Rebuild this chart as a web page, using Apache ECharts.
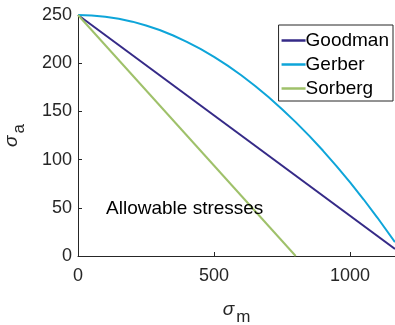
<!DOCTYPE html>
<html>
<head>
<meta charset="utf-8">
<script src="https://cdn.jsdelivr.net/npm/echarts@6/dist/echarts.min.js"></script>
<style>
  html, body { margin: 0; padding: 0; background: #fff; }
  #chart { width: 395px; height: 325px; }
</style>
</head>
<body>
<div id="chart"></div>
<script>
// Fatigue criteria: alternating stress vs. mean stress
const seriesNames = ['Goodman', 'Gerber', 'Sorberg'];
const colors = ['#352a87', '#0ea5d9', '#9fc16a'];

const goodmanMean = [0, 1165];
const goodmanAmp = [250, 7.3];

const gerberMean = [0, 50, 100, 150, 200, 250, 300, 350, 400, 450, 500, 550, 600, 650, 700,
  750, 800, 850, 900, 950, 1000, 1050, 1100, 1165];
const gerberAmp = [250, 249.6, 248.3, 246.1, 243.1, 239.1, 234.4, 228.7, 222.2, 214.8, 206.6,
  197.5, 187.5, 176.6, 164.9, 152.3, 138.9, 124.6, 109.4, 93.3, 76.4, 58.6, 39.9, 14.4];

const sorbergMean = [0, 800];
const sorbergAmp = [250, 0];

const xTicks = [0, 500, 1000];
const yTicks = [0, 50, 100, 150, 200, 250];
const annotation = 'Allowable stresses';

const zip = (xs, ys) => xs.map((x, i) => [x, ys[i]]);
const FONT = '"Liberation Sans", Arial, sans-serif';
const AXIS_COLOR = '#262626';

const chart = echarts.init(document.getElementById('chart'));

const lineSeries = (name, data, color) => ({
  name, type: 'line', data, symbol: 'none', smooth: false,
  lineStyle: { color, width: 2 }, itemStyle: { color },
  animation: false
});

const nameRich = {
  s: { fontFamily: FONT, fontSize: 19, fontStyle: 'italic', color: AXIS_COLOR },
  sub: { fontFamily: FONT, fontSize: 17, color: AXIS_COLOR, padding: [16, 0, 0, 2] }
};

chart.setOption({
  animation: false,
  backgroundColor: '#fff',
  grid: { left: 78, top: 15, right: 0, bottom: 69, containLabel: false, outerBoundsMode: 'none' },
  xAxis: {
    type: 'value', min: 0, max: 1165, interval: 500,
    name: '{s|σ}{sub|m}', nameLocation: 'middle', nameGap: 37,
    nameTextStyle: { rich: nameRich },
    axisLine: { show: true, lineStyle: { color: AXIS_COLOR, width: 1 } },
    axisTick: { show: true, inside: true, length: 4, lineStyle: { color: AXIS_COLOR } },
    axisLabel: { fontFamily: FONT, fontSize: 18, color: AXIS_COLOR, margin: 11, showMaxLabel: false,
      formatter: v => xTicks.includes(v) ? String(v) : '' },
    splitLine: { show: false }
  },
  yAxis: {
    type: 'value', min: 0, max: 250, interval: 50,
    name: '{s|σ}{sub|a}', nameLocation: 'middle', nameGap: 50, nameRotate: 90,
    nameTextStyle: { rich: nameRich },
    axisLine: { show: true, lineStyle: { color: AXIS_COLOR, width: 1 } },
    axisTick: { show: true, inside: true, length: 4, lineStyle: { color: AXIS_COLOR } },
    axisLabel: { fontFamily: FONT, fontSize: 18, color: AXIS_COLOR, margin: 6,
      formatter: v => yTicks.includes(v) ? String(v) : '' },
    splitLine: { show: false }
  },
  legend: {
    orient: 'vertical', right: 2, top: 25,
    data: seriesNames,
    icon: 'rect', itemWidth: 24, itemHeight: 2.5, itemGap: 5,
    padding: [6, 4, 3, 3],
    borderColor: AXIS_COLOR, borderWidth: 1, backgroundColor: '#fff',
    textStyle: { fontFamily: FONT, fontSize: 19, lineHeight: 19, color: '#000', padding: [0, 0, 0, -5] }
  },
  series: [
    lineSeries(seriesNames[0], zip(goodmanMean, goodmanAmp), colors[0]),
    lineSeries(seriesNames[1], zip(gerberMean, gerberAmp), colors[1]),
    lineSeries(seriesNames[2], zip(sorbergMean, sorbergAmp), colors[2])
  ]
});

// Annotation text anchored in data space
const anchor = chart.convertToPixel({ gridIndex: 0 }, [103, 48.5]);
chart.setOption({
  graphic: [{
    type: 'text', x: anchor[0], y: anchor[1], z: 10,
    style: { text: annotation, fontFamily: FONT, fontSize: 19, fill: '#000',
      textAlign: 'left', textVerticalAlign: 'middle' }
  }]
});
</script>
</body>
</html>
